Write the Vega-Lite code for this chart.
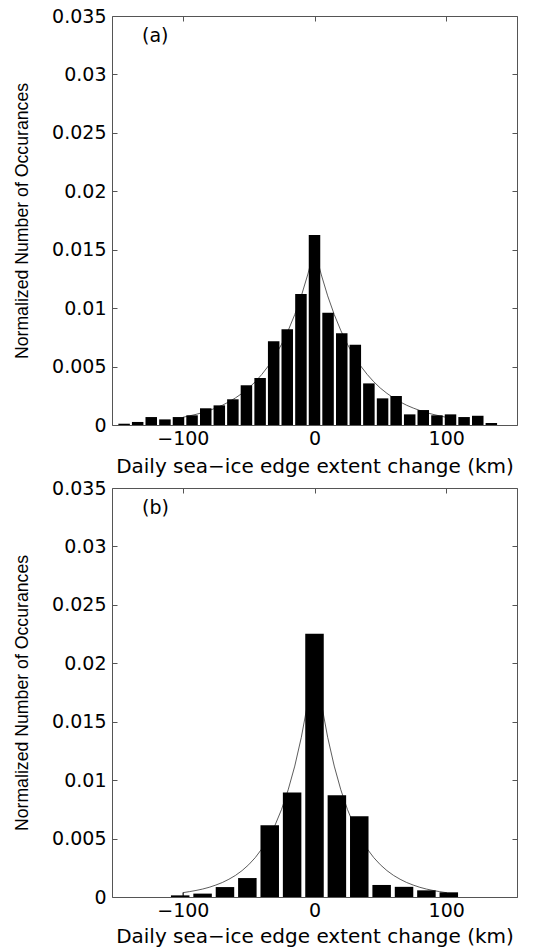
{
  "$schema": "https://vega.github.io/schema/vega-lite/v6.json",
  "padding": {"left": 13, "top": 6, "right": 0, "bottom": 0},
  "background": "white",
  "spacing": 1,
  "config": {
    "view": {"stroke": "#555555", "strokeWidth": 1},
    "font": "DejaVu Sans",
    "axis": {
      "grid": false,
      "domain": false,
      "tickColor": "#555555",
      "tickSize": -5,
      "tickWidth": 1,
      "labelFont": "DejaVu Sans",
      "labelFontSize": 19,
      "labelColor": "black",
      "titleColor": "black",
      "titleFontWeight": "normal"
    }
  },
  "datasets": {
    "bars_a": [
      {"km": -144.6, "p": 0.00011}, {"km": -134.3, "p": 0.00026}, {"km": -124.0, "p": 0.00068},
      {"km": -113.6, "p": 0.00048}, {"km": -103.3, "p": 0.00068}, {"km": -93.0, "p": 0.00083},
      {"km": -82.6, "p": 0.00143}, {"km": -72.3, "p": 0.00168}, {"km": -62.0, "p": 0.0022},
      {"km": -51.7, "p": 0.0034}, {"km": -41.3, "p": 0.00402}, {"km": -31.0, "p": 0.00716},
      {"km": -20.7, "p": 0.00819}, {"km": -10.3, "p": 0.0112}, {"km": 0, "p": 0.01626},
      {"km": 10.3, "p": 0.00961}, {"km": 20.7, "p": 0.00786}, {"km": 31.0, "p": 0.00687},
      {"km": 41.3, "p": 0.00356}, {"km": 51.7, "p": 0.00228}, {"km": 62.0, "p": 0.00248},
      {"km": 72.3, "p": 0.00091}, {"km": 82.6, "p": 0.00128}, {"km": 93.0, "p": 0.00083},
      {"km": 103.3, "p": 0.00091}, {"km": 113.6, "p": 0.00068}, {"km": 124.0, "p": 0.00079},
      {"km": 134.3, "p": 0.00017}
    ],
    "bars_b": [
      {"km": -102, "p": 0.00014}, {"km": -85, "p": 0.00029}, {"km": -68, "p": 0.00085},
      {"km": -51, "p": 0.00162}, {"km": -34, "p": 0.00614}, {"km": -17, "p": 0.00895},
      {"km": 0, "p": 0.02253}, {"km": 17, "p": 0.0087}, {"km": 34, "p": 0.0069},
      {"km": 51, "p": 0.00103}, {"km": 68, "p": 0.00087}, {"km": 85, "p": 0.00057},
      {"km": 102, "p": 0.0004}
    ],
    "curve_a": [
      {"i": 0, "km": -100, "p": 0.00066}, {"i": 1, "km": -95, "p": 0.00078}, {"i": 2, "km": -90, "p": 0.00091},
      {"i": 3, "km": -85, "p": 0.00106}, {"i": 4, "km": -80, "p": 0.00124}, {"i": 5, "km": -75, "p": 0.00145},
      {"i": 6, "km": -70, "p": 0.00169}, {"i": 7, "km": -65, "p": 0.00198}, {"i": 8, "km": -60, "p": 0.00232},
      {"i": 9, "km": -55, "p": 0.00271}, {"i": 10, "km": -50, "p": 0.00316}, {"i": 11, "km": -45, "p": 0.0037},
      {"i": 12, "km": -40, "p": 0.00433}, {"i": 13, "km": -35, "p": 0.00506}, {"i": 14, "km": -30, "p": 0.00591},
      {"i": 15, "km": -25, "p": 0.00691}, {"i": 16, "km": -20, "p": 0.00808}, {"i": 17, "km": -15, "p": 0.00945},
      {"i": 18, "km": -10, "p": 0.01105}, {"i": 19, "km": -5, "p": 0.01292}, {"i": 20, "km": 0, "p": 0.0151},
      {"i": 21, "km": 5, "p": 0.01292}, {"i": 22, "km": 10, "p": 0.01105}, {"i": 23, "km": 15, "p": 0.00945},
      {"i": 24, "km": 20, "p": 0.00808}, {"i": 25, "km": 25, "p": 0.00691}, {"i": 26, "km": 30, "p": 0.00591},
      {"i": 27, "km": 35, "p": 0.00506}, {"i": 28, "km": 40, "p": 0.00433}, {"i": 29, "km": 45, "p": 0.0037},
      {"i": 30, "km": 50, "p": 0.00316}, {"i": 31, "km": 55, "p": 0.00271}, {"i": 32, "km": 60, "p": 0.00232},
      {"i": 33, "km": 65, "p": 0.00198}, {"i": 34, "km": 70, "p": 0.00169}, {"i": 35, "km": 75, "p": 0.00145},
      {"i": 36, "km": 80, "p": 0.00124}, {"i": 37, "km": 85, "p": 0.00106}, {"i": 38, "km": 90, "p": 0.00091},
      {"i": 39, "km": 95, "p": 0.00078}, {"i": 40, "km": 100, "p": 0.00066}
    ],
    "curve_b": [
      {"i": 0, "km": -100, "p": 0}, {"i": 1, "km": -100, "p": 0.00037}, {"i": 2, "km": -95, "p": 0.00046},
      {"i": 3, "km": -90, "p": 0.00056}, {"i": 4, "km": -85, "p": 0.00068}, {"i": 5, "km": -80, "p": 0.00083},
      {"i": 6, "km": -75, "p": 0.00102}, {"i": 7, "km": -70, "p": 0.00124}, {"i": 8, "km": -65, "p": 0.00152},
      {"i": 9, "km": -60, "p": 0.00185}, {"i": 10, "km": -55, "p": 0.00226}, {"i": 11, "km": -50, "p": 0.00276},
      {"i": 12, "km": -45, "p": 0.00337}, {"i": 13, "km": -40, "p": 0.00412}, {"i": 14, "km": -35, "p": 0.00503},
      {"i": 15, "km": -30, "p": 0.00614}, {"i": 16, "km": -25, "p": 0.0075}, {"i": 17, "km": -20, "p": 0.00917},
      {"i": 18, "km": -15, "p": 0.0112}, {"i": 19, "km": -10, "p": 0.01367}, {"i": 20, "km": -5, "p": 0.0167},
      {"i": 21, "km": 0, "p": 0.0204}, {"i": 22, "km": 5, "p": 0.0167}, {"i": 23, "km": 10, "p": 0.01367},
      {"i": 24, "km": 15, "p": 0.0112}, {"i": 25, "km": 20, "p": 0.00917}, {"i": 26, "km": 25, "p": 0.0075},
      {"i": 27, "km": 30, "p": 0.00614}, {"i": 28, "km": 35, "p": 0.00503}, {"i": 29, "km": 40, "p": 0.00412},
      {"i": 30, "km": 45, "p": 0.00337}, {"i": 31, "km": 50, "p": 0.00276}, {"i": 32, "km": 55, "p": 0.00226},
      {"i": 33, "km": 60, "p": 0.00185}, {"i": 34, "km": 65, "p": 0.00152}, {"i": 35, "km": 70, "p": 0.00124},
      {"i": 36, "km": 75, "p": 0.00102}, {"i": 37, "km": 80, "p": 0.00083}, {"i": 38, "km": 85, "p": 0.00068},
      {"i": 39, "km": 90, "p": 0.00056}, {"i": 40, "km": 95, "p": 0.00046}, {"i": 41, "km": 100, "p": 0.00037},
      {"i": 42, "km": 100, "p": 0}
    ]
  },
  "vconcat": [
    {
      "width": 405,
      "height": 409,
      "layer": [
        {
          "data": {"name": "curve_a"},
          "mark": {"type": "line", "color": "#333333", "strokeWidth": 0.8},
          "encoding": {
            "x": {"field": "km", "type": "quantitative",
              "scale": {"domain": [-150, 150], "nice": false, "zero": false},
              "axis": {"orient": "bottom", "values": [-100, 0, 100], "labelPadding": 9,
                "title": "Daily sea−ice edge extent change (km)", "titleFont": "DejaVu Sans", "titleFontSize": 20, "titlePadding": 8}},
            "y": {"field": "p", "type": "quantitative",
              "scale": {"domain": [0, 0.035], "nice": false},
              "axis": {"orient": "left", "values": [0, 0.005, 0.01, 0.015, 0.02, 0.025, 0.03, 0.035], "format": "~g", "labelPadding": 11,
                "title": "Normalized Number of Occurances", "titleFont": "Liberation Sans", "titleFontSize": 17.7, "titlePadding": 20}},
            "order": {"field": "i", "type": "quantitative"}
          }
        },
        {
          "data": {"name": "bars_a"},
          "mark": {"type": "bar", "color": "black", "size": 11.5, "orient": "vertical"},
          "encoding": {
            "x": {"field": "km", "type": "quantitative",
              "axis": {"orient": "top", "values": [-100, 0, 100], "labels": false, "title": null}},
            "y": {"field": "p", "type": "quantitative",
              "axis": {"orient": "right", "values": [0, 0.005, 0.01, 0.015, 0.02, 0.025, 0.03, 0.035], "labels": false, "title": null}}
          }
        },
        {
          "data": {"values": [{"label": "(a)"}]},
          "mark": {"type": "text", "align": "left", "baseline": "middle", "font": "DejaVu Sans", "fontSize": 19, "color": "black"},
          "encoding": {
            "x": {"datum": -131, "type": "quantitative", "axis": null},
            "y": {"datum": 0.0333, "type": "quantitative", "axis": null},
            "text": {"field": "label"}
          }
        }
      ],
      "resolve": {"axis": {"x": "independent", "y": "independent"}}
    },
    {
      "width": 405,
      "height": 409,
      "layer": [
        {
          "data": {"name": "curve_b"},
          "mark": {"type": "line", "color": "#333333", "strokeWidth": 0.8},
          "encoding": {
            "x": {"field": "km", "type": "quantitative",
              "scale": {"domain": [-150, 150], "nice": false, "zero": false},
              "axis": {"orient": "bottom", "values": [-100, 0, 100], "labelPadding": 9,
                "title": "Daily sea−ice edge extent change (km)", "titleFont": "DejaVu Sans", "titleFontSize": 20, "titlePadding": 6}},
            "y": {"field": "p", "type": "quantitative",
              "scale": {"domain": [0, 0.035], "nice": false},
              "axis": {"orient": "left", "values": [0, 0.005, 0.01, 0.015, 0.02, 0.025, 0.03, 0.035], "format": "~g", "labelPadding": 11,
                "title": "Normalized Number of Occurances", "titleFont": "Liberation Sans", "titleFontSize": 17.7, "titlePadding": 20}},
            "order": {"field": "i", "type": "quantitative"}
          }
        },
        {
          "data": {"name": "bars_b"},
          "mark": {"type": "bar", "color": "black", "size": 18.5, "orient": "vertical"},
          "encoding": {
            "x": {"field": "km", "type": "quantitative",
              "axis": {"orient": "top", "values": [-100, 0, 100], "labels": false, "title": null}},
            "y": {"field": "p", "type": "quantitative",
              "axis": {"orient": "right", "values": [0, 0.005, 0.01, 0.015, 0.02, 0.025, 0.03, 0.035], "labels": false, "title": null}}
          }
        },
        {
          "data": {"values": [{"label": "(b)"}]},
          "mark": {"type": "text", "align": "left", "baseline": "middle", "font": "DejaVu Sans", "fontSize": 19, "color": "black"},
          "encoding": {
            "x": {"datum": -131, "type": "quantitative", "axis": null},
            "y": {"datum": 0.0333, "type": "quantitative", "axis": null},
            "text": {"field": "label"}
          }
        }
      ],
      "resolve": {"axis": {"x": "independent", "y": "independent"}}
    }
  ]
}
